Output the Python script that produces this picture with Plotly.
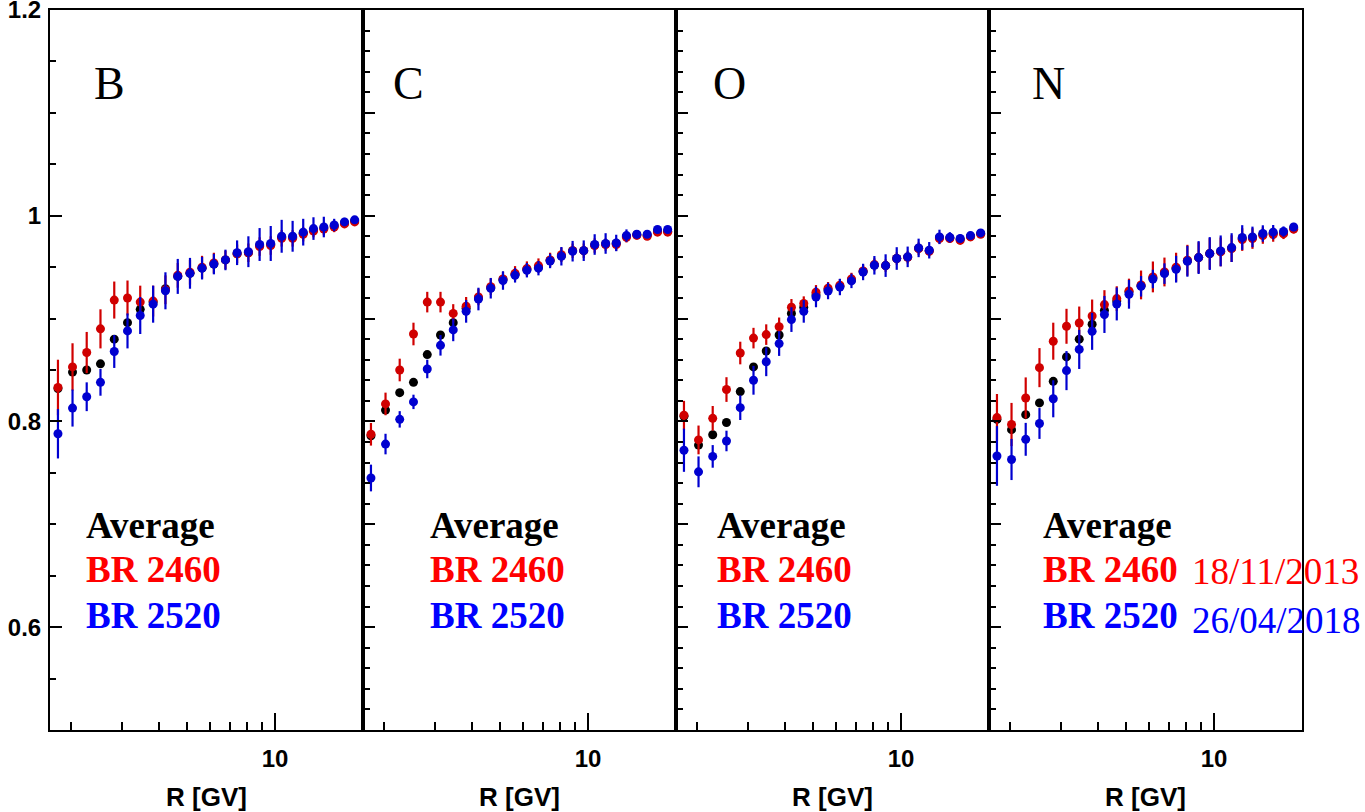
import math
import plotly.graph_objects as go

# ---------------- data ----------------
R = [1.81, 2.03, 2.27, 2.53, 2.82, 3.13, 3.46, 3.83, 4.22, 4.65, 5.12, 5.63, 6.18,
     6.77, 7.42, 8.11, 8.86, 9.67, 10.54, 11.49, 12.49, 13.54, 14.69, 15.94, 17.29, 18.73]

panels = ["B", "C", "O", "N"]

B_avg = [0.832, 0.848, 0.850, 0.856, 0.880, 0.896, 0.909, 0.916, 0.929, 0.941, 0.944, 0.949, 0.953,
         0.957, 0.963, 0.964, 0.971, 0.972, 0.979, 0.979, 0.983, 0.986, 0.988, 0.990, 0.993, 0.995]
B_2460 = [0.833, 0.853, 0.867, 0.890, 0.918, 0.920, 0.916, 0.917, 0.928, 0.942, 0.945, 0.950, 0.954,
          0.957, 0.963, 0.964, 0.970, 0.971, 0.978, 0.978, 0.982, 0.985, 0.987, 0.989, 0.992, 0.994]
B_2460_err = [0.027, 0.023, 0.020, 0.019, 0.018, 0.017, 0.016, 0.015, 0.014, 0.012, 0.012, 0.011, 0.010,
              0.009, 0.009, 0.009, 0.009, 0.009, 0.008, 0.008, 0.007, 0.006, 0.006, 0.005, 0.004, 0.003]
B_2520 = [0.788, 0.813, 0.824, 0.838, 0.868, 0.888, 0.903, 0.914, 0.927, 0.941, 0.944, 0.949, 0.953,
          0.957, 0.964, 0.965, 0.972, 0.973, 0.980, 0.980, 0.984, 0.9875, 0.989, 0.991, 0.994, 0.996]
B_2520_err = [0.024, 0.018, 0.014, 0.013, 0.016, 0.017, 0.018, 0.018, 0.018, 0.017, 0.015, 0.011, 0.010,
              0.010, 0.012, 0.015, 0.016, 0.017, 0.016, 0.015, 0.013, 0.011, 0.010, 0.006, 0.004, 0.003]

C_avg = [0.786, 0.811, 0.828, 0.838, 0.865, 0.884, 0.896, 0.910, 0.920, 0.930, 0.938, 0.943, 0.948,
         0.950, 0.9565, 0.961, 0.966, 0.966, 0.9715, 0.9725, 0.973, 0.980, 0.9815, 0.981, 0.985, 0.985]
C_2460 = [0.7875, 0.817, 0.850, 0.885, 0.916, 0.916, 0.905, 0.912, 0.921, 0.931, 0.9385, 0.944, 0.9486,
          0.9515, 0.957, 0.962, 0.966, 0.966, 0.971, 0.972, 0.972, 0.979, 0.981, 0.980, 0.984, 0.984]
C_2460_err = [0.011, 0.011, 0.011, 0.011, 0.010, 0.010, 0.009, 0.009, 0.008, 0.008, 0.007, 0.007, 0.007,
              0.007, 0.007, 0.007, 0.007, 0.007, 0.007, 0.006, 0.006, 0.005, 0.004, 0.003, 0.003, 0.003]
C_2520 = [0.745, 0.778, 0.802, 0.819, 0.851, 0.874, 0.889, 0.907, 0.919, 0.9295, 0.937, 0.942, 0.947,
          0.949, 0.956, 0.9606, 0.9655, 0.966, 0.972, 0.973, 0.9735, 0.9807, 0.982, 0.982, 0.9866, 0.9866]
C_2520_err = [0.013, 0.010, 0.008, 0.007, 0.009, 0.010, 0.011, 0.011, 0.011, 0.010, 0.009, 0.007, 0.007,
              0.007, 0.007, 0.009, 0.010, 0.010, 0.010, 0.010, 0.008, 0.006, 0.004, 0.003, 0.003, 0.003]

O_avg = [0.805, 0.777, 0.787, 0.799, 0.829, 0.853, 0.8685, 0.884, 0.905, 0.911, 0.923, 0.928, 0.9315,
         0.9375, 0.9458, 0.952, 0.9515, 0.9584, 0.9598, 0.9684, 0.966, 0.9786, 0.9784, 0.977, 0.980, 0.9826]
O_2460 = [0.806, 0.782, 0.803, 0.831, 0.8665, 0.881, 0.8844, 0.892, 0.911, 0.9146, 0.9256, 0.9295, 0.9324,
          0.9385, 0.9463, 0.9525, 0.9515, 0.9584, 0.9596, 0.968, 0.9655, 0.9778, 0.9778, 0.976, 0.9794, 0.982]
O_2460_err = [0.014, 0.014, 0.012, 0.012, 0.011, 0.010, 0.010, 0.009, 0.008, 0.007, 0.007, 0.006, 0.006,
              0.006, 0.006, 0.006, 0.006, 0.006, 0.006, 0.006, 0.005, 0.005, 0.004, 0.003, 0.003, 0.003]
O_2520 = [0.772, 0.751, 0.766, 0.781, 0.8134, 0.840, 0.858, 0.8757, 0.899, 0.907, 0.921, 0.9268, 0.9307,
          0.9366, 0.9453, 0.9518, 0.9515, 0.9584, 0.960, 0.9687, 0.9664, 0.9794, 0.979, 0.9778, 0.9807, 0.9833]
O_2520_err = [0.021, 0.015, 0.011, 0.010, 0.012, 0.014, 0.014, 0.012, 0.012, 0.011, 0.010, 0.008, 0.008,
              0.007, 0.008, 0.009, 0.011, 0.011, 0.010, 0.009, 0.008, 0.007, 0.005, 0.004, 0.003, 0.003]

N_avg = [0.802, 0.792, 0.8066, 0.818, 0.839, 0.8627, 0.880, 0.8945, 0.908, 0.917, 0.926, 0.932, 0.9395,
         0.9445, 0.949, 0.9562, 0.9593, 0.9632, 0.9653, 0.9685, 0.9778, 0.9786, 0.9817, 0.9828, 0.9835, 0.988]
N_2460 = [0.8037, 0.797, 0.8228, 0.8523, 0.878, 0.8925, 0.8957, 0.9025, 0.9136, 0.9194, 0.9268, 0.9327, 0.9405,
          0.9453, 0.950, 0.9567, 0.9593, 0.9632, 0.9648, 0.968, 0.9768, 0.9778, 0.9807, 0.9817, 0.9823, 0.9869]
N_2460_err = [0.023, 0.021, 0.020, 0.019, 0.018, 0.017, 0.016, 0.016, 0.014, 0.012, 0.012, 0.014, 0.015,
              0.014, 0.014, 0.015, 0.015, 0.015, 0.014, 0.013, 0.011, 0.010, 0.008, 0.007, 0.005, 0.004]
N_2520 = [0.7664, 0.763, 0.7826, 0.798, 0.822, 0.8494, 0.870, 0.8876, 0.904, 0.9142, 0.9236, 0.9314, 0.9385,
          0.9437, 0.948, 0.9557, 0.9593, 0.9632, 0.9658, 0.969, 0.9788, 0.9794, 0.9827, 0.984, 0.9846, 0.989]
N_2520_err = [0.029, 0.020, 0.016, 0.015, 0.018, 0.019, 0.019, 0.018, 0.018, 0.016, 0.014, 0.010, 0.009,
              0.010, 0.013, 0.015, 0.016, 0.016, 0.015, 0.014, 0.012, 0.010, 0.008, 0.007, 0.005, 0.004]

series = {
    "B": (B_avg, B_2460, B_2460_err, B_2520, B_2520_err),
    "C": (C_avg, C_2460, C_2460_err, C_2520, C_2520_err),
    "O": (O_avg, O_2460, O_2460_err, O_2520, O_2520_err),
    "N": (N_avg, N_2460, N_2460_err, N_2520, N_2520_err),
}

legend_labels = ["Average", "BR 2460", "BR 2520"]
dates = ["18/11/2013", "26/04/2018"]

x_range = [1.7, 20.0]
y_range = [0.5, 1.2]

# ---------------- style ----------------
RED_MK = "#d00000"
BLUE_MK = "#0000d0"
RED_TX = "#ff0000"
BLUE_TX = "#0000ff"
SANS = "Liberation Sans, Arial, sans-serif"
SERIF = "Liberation Serif, Times New Roman, serif"

label_x = [0.134, 0.089, 0.111, 0.131]
legend_x = [0.110, 0.209, 0.126, 0.165]
legend_y = [0.6990, 0.6560, 0.6115]

fig = go.Figure()

for i, name in enumerate(panels):
    avg, r, re, b, be = series[name]
    xa = "x" if i == 0 else f"x{i+1}"
    ya = "y" if i == 0 else f"y{i+1}"
    fig.add_trace(go.Scatter(x=R, y=avg, mode="markers", xaxis=xa, yaxis=ya,
                             marker=dict(color="black", size=9), showlegend=False))
    fig.add_trace(go.Scatter(x=R, y=r, mode="markers", xaxis=xa, yaxis=ya,
                             marker=dict(color=RED_MK, size=9),
                             error_y=dict(type="data", array=re, color=RED_MK, thickness=2.2, width=0),
                             showlegend=False))
    fig.add_trace(go.Scatter(x=R, y=b, mode="markers", xaxis=xa, yaxis=ya,
                             marker=dict(color=BLUE_MK, size=9),
                             error_y=dict(type="data", array=be, color=BLUE_MK, thickness=2.2, width=0),
                             showlegend=False))

layout = dict(
    width=1365, height=812,
    margin=dict(l=50, r=63, t=10, b=82),
    paper_bgcolor="white", plot_bgcolor="white",
    showlegend=False,
)

for i in range(4):
    xk = "xaxis" if i == 0 else f"xaxis{i+1}"
    yk = "yaxis" if i == 0 else f"yaxis{i+1}"
    ya = "y" if i == 0 else f"y{i+1}"
    xa = "x" if i == 0 else f"x{i+1}"
    layout[xk] = dict(
        domain=[i / 4, (i + 1) / 4], anchor=ya, type="log", automargin=False,
        range=[math.log10(x_range[0]), math.log10(x_range[1])],
        showline=True, mirror=True, linecolor="black", linewidth=2,
        showgrid=False, zeroline=False,
        tickmode="array", tickvals=[10], ticktext=["10"],
        ticks="inside", ticklen=17, tickwidth=1.5, tickcolor="black",
        minor=dict(tickmode="array", tickvals=[2, 3, 4, 5, 6, 7, 8, 9],
                   ticks="inside", ticklen=8, tickwidth=1.5, tickcolor="black", showgrid=False),
        tickfont=dict(family=SANS, size=24, color="black", weight="bold"),
        ticklabelstandoff=6, ticklabeloverflow="allow",
        title=dict(text="R [GV]", font=dict(family=SANS, size=26, color="black", weight="bold"),
                   standoff=17),
    )
    if i == 0:
        ytick = dict(tickmode="array", tickvals=[0.6, 0.8, 1.0, 1.2],
                     ticktext=["0.6", "0.8", "1", "1.2"], showticklabels=True,
                     minor=dict(dtick=0.05, tick0=0.5, ticks="inside", ticklen=6,
                                tickwidth=1.5, tickcolor="black", showgrid=False))
    else:
        ytick = dict(tickmode="linear", tick0=0.5, dtick=0.1, showticklabels=False,
                     minor=dict(dtick=0.02, tick0=0.5, ticks="inside", ticklen=7,
                                tickwidth=1.5, tickcolor="black", showgrid=False))
    layout[yk] = dict(
        domain=[0, 1], anchor=xa, range=y_range, automargin=False,
        showline=True, mirror=True, linecolor="black", linewidth=2,
        showgrid=False, zeroline=False,
        ticks="inside", ticklen=12, tickwidth=1.5, tickcolor="black",
        tickfont=dict(family=SANS, size=24, color="black", weight="bold"),
        ticklabelstandoff=2, ticklabeloverflow="allow",
        **ytick,
    )

fig.update_layout(**layout)

annotations = []
for i, name in enumerate(panels):
    xd = "x domain" if i == 0 else f"x{i+1} domain"
    yr = "y" if i == 0 else f"y{i+1}"
    annotations.append(dict(text=name, xref=xd, yref=yr, x=label_x[i], y=1.129,
                            xanchor="left", yanchor="middle", showarrow=False,
                            font=dict(family=SERIF, size=46, color="black")))
    for txt, yy, col in zip(legend_labels, legend_y, ["black", RED_TX, BLUE_TX]):
        annotations.append(dict(text=txt, xref=xd, yref=yr, x=legend_x[i], y=yy,
                                xanchor="left", yanchor="middle", showarrow=False,
                                font=dict(family=SERIF, size=37, color=col, weight="bold")))

# dates next to the last panel's labels
annotations.append(dict(text=dates[0], xref="x4 domain", yref="y4", x=0.642, y=0.6545,
                        xanchor="left", yanchor="middle", showarrow=False,
                        font=dict(family=SERIF, size=37, color=RED_TX)))
annotations.append(dict(text=dates[1], xref="x4 domain", yref="y4", x=0.642, y=0.6068,
                        xanchor="left", yanchor="middle", showarrow=False,
                        font=dict(family=SERIF, size=37, color=BLUE_TX)))
fig.update_layout(annotations=annotations)

fig.write_html("out.html")
